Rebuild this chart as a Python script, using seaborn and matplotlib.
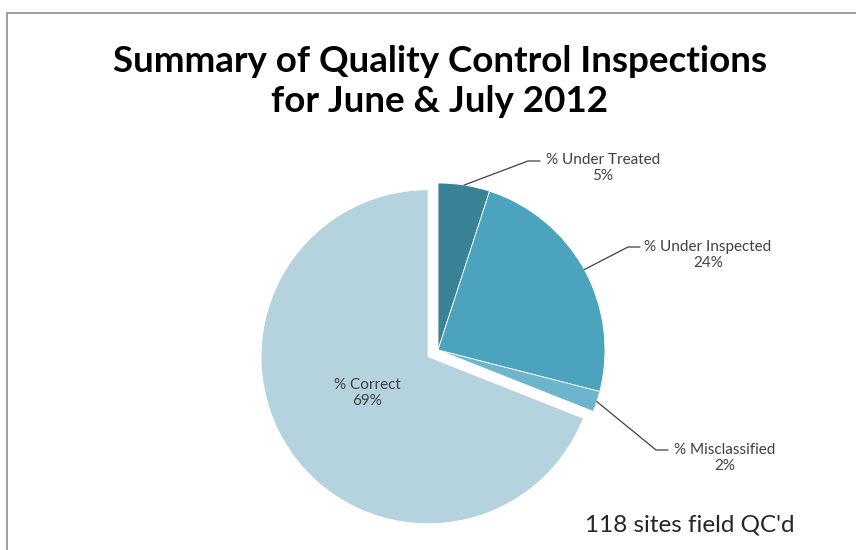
import matplotlib
matplotlib.use("Agg")
import matplotlib.pyplot as plt
import seaborn as sns
import numpy as np

# data
categories = ["% Under Treated", "% Under Inspected", "% Misclassified", "% Correct"]
shares = [5, 24, 2, 69]
slice_colors = ["#3a8397", "#4ba3bd", "#6cb5cc", "#b5d3df"]
explode = [0, 0, 0, 12]

# label anchors in pixel coords (x, y from top)
label_pos = [(603, 168), (708, 255), (725, 458), (367, 393)]
kinks = [(528, 161), (628, 247), (656, 450), None]

W, H = 856, 550
cx, cy, r = 438, 350, 167

sns.set_theme(style="white")
plt.rcParams['font.family'] = ['Lato', 'DejaVu Sans']

fig = plt.figure(figsize=(W / 100, H / 100), dpi=100)
ax = fig.add_axes([0, 0, 1, 1])

wedges, _ = ax.pie(shares, colors=slice_colors, explode=explode, startangle=90,
                   counterclock=False, center=(cx, H - cy), radius=r,
                   wedgeprops=dict(edgecolor="white", linewidth=0.6))
ax.set_xlim(0, W)
ax.set_ylim(0, H)
ax.set_aspect("equal")
ax.axis("off")

# labels with leader lines
for w, cat, val, (lx, ly), kink in zip(wedges, categories, shares, label_pos, kinks):
    txt = f"{cat}\n{val}%"
    ax.text(lx, H - ly, txt, ha="center", va="center", fontsize=11,
            color="#404040", linespacing=1.2)
    if kink is None:
        continue
    mid = np.deg2rad((w.theta1 + w.theta2) / 2)
    wx, wy = w.center
    sx = wx + w.r * np.cos(mid)
    sy = wy + w.r * np.sin(mid)
    kx, ky = kink
    ax.plot([sx, kx, kx + 12], [sy, H - ky, H - ky], color="#404040", lw=0.9)

# title and note
ax.text(440, H - 61, "Summary of Quality Control Inspections", ha="center",
        va="center", fontsize=26.5, fontweight="bold", color="black")
ax.text(440, H - 102, "for June & July 2012", ha="center", va="center",
        fontsize=26.5, fontweight="bold", color="black")
ax.text(690, H - 525, "118 sites field QC'd", ha="center", va="center",
        fontsize=17.5, color="#262626")

# chart frame
ax.plot([7, 7, W], [0, H - 13, H - 13], color="#8c8c8c", lw=1.2)

fig.savefig("out.png", dpi=100)
